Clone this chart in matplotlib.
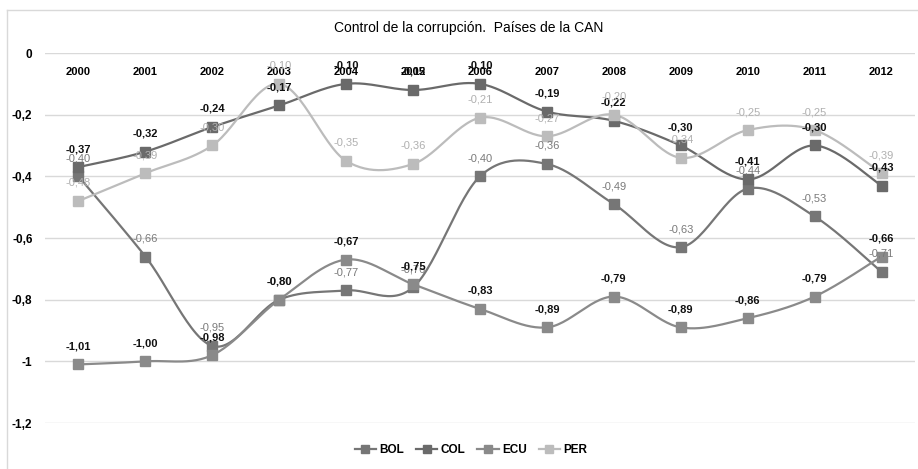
import numpy as np
import matplotlib
matplotlib.use('Agg')
import matplotlib.pyplot as plt
from matplotlib.ticker import FuncFormatter

years = ['2000', '2001', '2002', '2003', '2004', '2005', '2006',
         '2007', '2008', '2009', '2010', '2011', '2012']
bol = [-0.40, -0.66, -0.95, -0.80, -0.77, -0.76, -0.40, -0.36, -0.49, -0.63, -0.44, -0.53, -0.71]
col = [-0.37, -0.32, -0.24, -0.17, -0.10, -0.12, -0.10, -0.19, -0.22, -0.30, -0.41, -0.30, -0.43]
ecu = [-1.01, -1.00, -0.98, -0.80, -0.67, -0.75, -0.83, -0.89, -0.79, -0.89, -0.86, -0.79, -0.66]
per = [-0.48, -0.39, -0.30, -0.10, -0.35, -0.36, -0.21, -0.27, -0.20, -0.34, -0.25, -0.25, -0.39]

series = [
    # name, values, line colour, label colour, label weight
    ('BOL', bol, '#767676', '#7a7a7a', 'normal'),
    ('COL', col, '#6a6a6a', '#111111', 'bold'),
    ('ECU', ecu, '#8a8a8a', '#111111', 'bold'),
    ('PER', per, '#bcbcbc', '#b0b0b0', 'normal'),
]

FONT = ['Liberation Sans Narrow', 'Liberation Sans', 'DejaVu Sans']
plt.rcParams['font.family'] = FONT


def smooth(y, n=30):
    # bezier smoothing like excel "smoothed line"
    y = np.asarray(y, float)
    x = np.arange(len(y), dtype=float)
    P = np.column_stack([x, y])
    out = [P[0:1]]
    t = np.linspace(0, 1, n)[1:, None]
    for i in range(len(P) - 1):
        p0 = P[i - 1] if i > 0 else P[i]
        p3 = P[i + 2] if i + 2 < len(P) else P[i + 1]
        c1 = P[i] + (P[i + 1] - p0) / 6.0
        c2 = P[i + 1] - (p3 - P[i]) / 6.0
        seg = ((1 - t) ** 3) * P[i] + 3 * ((1 - t) ** 2) * t * c1 \
            + 3 * (1 - t) * t ** 2 * c2 + t ** 3 * P[i + 1]
        out.append(seg)
    pts = np.vstack(out)
    return pts[:, 0], pts[:, 1]


W, H = 918, 469
fig = plt.figure(figsize=(W / 100, H / 100), dpi=100)
ax = fig.add_axes([45 / W, 1 - 423 / H, 870 / W, 370 / H])

xs = np.arange(len(years))
for name, vals, lc, tc, fw in series:
    sx, sy = smooth(vals)
    ax.plot(sx, sy, color=lc, lw=1.6, zorder=3)
    ax.plot(xs, vals, ls='none', marker='s', ms=6.5, color=lc, zorder=4,
            label=name)
    for i, v in enumerate(vals):
        ax.annotate(('%.2f' % v).replace('.', ','), (i, v), xytext=(0, 13),
                    textcoords='offset points', ha='center', va='center',
                    fontsize=8, color=tc, fontweight=fw, zorder=5,
                    annotation_clip=False)

ax.set_xlim(-0.5, len(years) - 0.5)
ax.set_ylim(-1.2, 0)
ax.set_yticks([0, -0.2, -0.4, -0.6, -0.8, -1.0, -1.2])
ax.yaxis.set_major_formatter(FuncFormatter(lambda v, p: ('%g' % v).replace('.', ',')))
ax.grid(axis='y', color='#d9d9d9', lw=1)
ax.set_axisbelow(True)
for s in ax.spines.values():
    s.set_visible(False)
ax.tick_params(axis='y', length=0, pad=9, labelsize=8.5)
for lab in ax.get_yticklabels():
    lab.set_fontweight('bold')

ax.set_xticks(xs)
ax.set_xticklabels(years, fontsize=8, fontweight='bold')
ax.tick_params(axis='x', length=0, bottom=False, top=False,
               labelbottom=False, labeltop=True, pad=-17.5)

fig.text(469 / W, 1 - 28 / H, 'Control de la corrupción.  Países de la CAN',
         ha='center', va='center', fontsize=10)

handles = []
for name, vals, lc, tc, fw in series:
    h, = ax.plot([], [], color=lc, lw=1.6, marker='s', ms=5.5, label=name)
    handles.append(h)
fig.legend(handles=handles, labels=[s[0] for s in series], loc='center',
           bbox_to_anchor=(471 / W, 1 - 450 / H), ncol=4, frameon=False,
           handlelength=1.8, columnspacing=1.0, handletextpad=0.3,
           prop={'weight': 'bold', 'size': 8.5})

# chart border (left / top visible)
fig.add_artist(plt.Line2D([7 / W, 7 / W], [0, 1 - 10 / H], color='#d9d9d9', lw=1))
fig.add_artist(plt.Line2D([7 / W, 1], [1 - 10 / H, 1 - 10 / H], color='#d9d9d9', lw=1))

fig.savefig('out.png', dpi=100)
